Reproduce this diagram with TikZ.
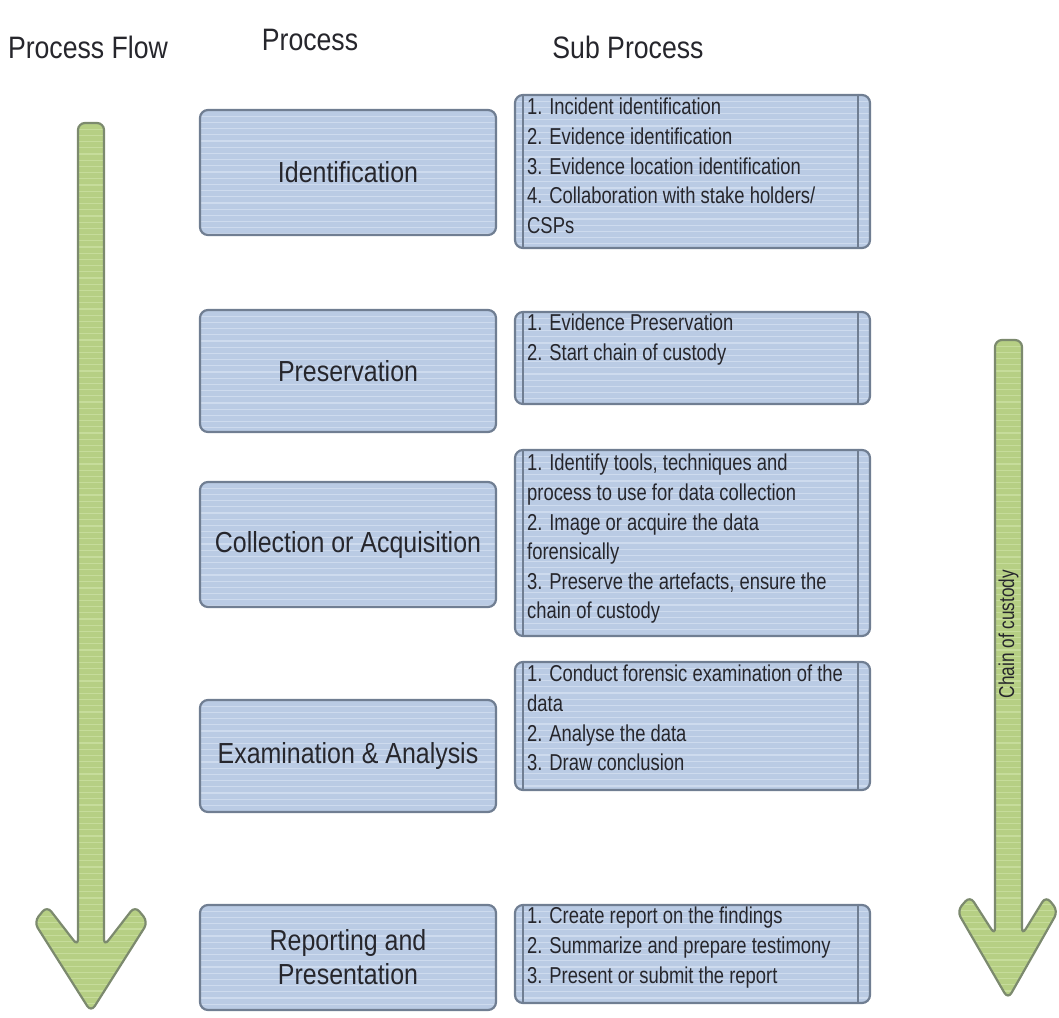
\documentclass[tikz,border=0pt]{standalone}
\usepackage{fontspec}
\setmainfont{Liberation Sans}[FakeStretch=0.86]
\newfontfamily\narrowsans{Liberation Sans}[FakeStretch=0.8]
\definecolor{boxfill}{RGB}{186,203,228}
\definecolor{boxstripe}{RGB}{206,219,238}
\definecolor{boxedge}{RGB}{112,126,146}
\definecolor{arrowfill}{RGB}{182,207,132}
\definecolor{arrowstripe}{RGB}{198,220,155}
\definecolor{arrowedge}{RGB}{124,138,110}
\definecolor{ink}{RGB}{38,38,44}
\tikzset{
  stripes/.style={path picture={
    \foreach \k in {1,...,200}{
      \draw[#1,line width=1.3pt]
        ([yshift=-\k*6.2pt]path picture bounding box.north west) --
        ([yshift=-\k*6.2pt]path picture bounding box.north east);}}},
  procbox/.style={draw=boxedge, line width=2.2pt, fill=boxfill,
    rounded corners=8pt, stripes=boxstripe, minimum width=296pt,
    text=ink, font=\fontsize{29}{34}\selectfont, align=center},
  subbox/.style={draw=boxedge, line width=2.2pt, fill=boxfill,
    rounded corners=8pt, stripes=boxstripe, minimum width=355pt},
  subtext/.style={anchor=north west, inner sep=0pt, align=left, text=ink,
    font=\narrowsans\fontsize{23}{29.6}\selectfont},
  header/.style={text=ink, font=\fontsize{31}{36}\selectfont},
  bigarrow/.style={draw=arrowedge, line width=2.2pt, fill=arrowfill,
    rounded corners=7pt, stripes=arrowstripe},
  rail/.style={draw=boxedge, line width=1.4pt}
}
\begin{document}
\begin{tikzpicture}[x=1pt,y=-1pt]
\useasboundingbox (0,0) rectangle (1059,1017);

% column headings
\node[header] (hflow) at (88,47) {Process Flow};
\node[header] (hproc) at (310,40) {Process};
\node[header] (hsub)  at (628,47) {Sub Process};

% process flow arrow
\path[bigarrow] (78,946) -- (78,123) -- (104,123) -- (104,946)
  -- (135,906) -- (148,922) -- (91,1012) -- (34,922) -- (47,906) -- cycle;

% chain of custody arrow
\path[bigarrow] (995,935) -- (995,340) -- (1022,340) -- (1022,935)
  -- (1046,896) -- (1058,911) -- (1008,999) -- (957,911) -- (970,896) -- cycle;
\node[rotate=90, text=ink, font=\narrowsans\fontsize{21.5}{24}\selectfont] (coc) at (1008.5,634) {Chain of custody};

% process steps
\node[procbox, minimum height=125pt] (p1) at (348,172.5) {Identification};
\node[procbox, minimum height=122pt] (p2) at (348,371) {Preservation};
\node[procbox, minimum height=125pt] (p3) at (348,544.5) {Collection or Acquisition};
\node[procbox, minimum height=112pt] (p4) at (348,756) {Examination \& Analysis};
\node[procbox, minimum height=105pt] (p5) at (348,957.5) {Reporting and\\Presentation};

% sub process boxes
\node[subbox, minimum height=153pt] (s1) at (692.5,171.5) {};
\node[subbox, minimum height=92pt]  (s2) at (692.5,358) {};
\node[subbox, minimum height=186pt] (s3) at (692.5,543) {};
\node[subbox, minimum height=128pt] (s4) at (692.5,726) {};
\node[subbox, minimum height=98pt]  (s5) at (692.5,954) {};

% side rails inside the sub process boxes
\foreach \s in {s1,s2,s3,s4,s5}{
  \draw[rail] ([xshift=9pt]\s.north west) -- ([xshift=9pt]\s.south west);
  \draw[rail] ([xshift=-13pt]\s.north east) -- ([xshift=-13pt]\s.south east);
}

\node[subtext] (t1) at (527,98) {1. Incident identification\\2. Evidence identification\\3. Evidence location identification\\4. Collaboration with stake holders/\\CSPs};
\node[subtext] (t2) at (527,314) {1. Evidence Preservation\\2. Start chain of custody};
\node[subtext] (t3) at (527,454) {1. Identify tools, techniques and\\process to use for data collection\\2. Image or acquire the data\\forensically\\3. Preserve the artefacts, ensure the\\chain of custody};
\node[subtext] (t4) at (527,665) {1. Conduct forensic examination of the\\data\\2. Analyse the data\\3. Draw conclusion};
\node[subtext] (t5) at (527,907) {1. Create report on the findings\\2. Summarize and prepare testimony\\3. Present or submit the report};
\end{tikzpicture}
\end{document}
